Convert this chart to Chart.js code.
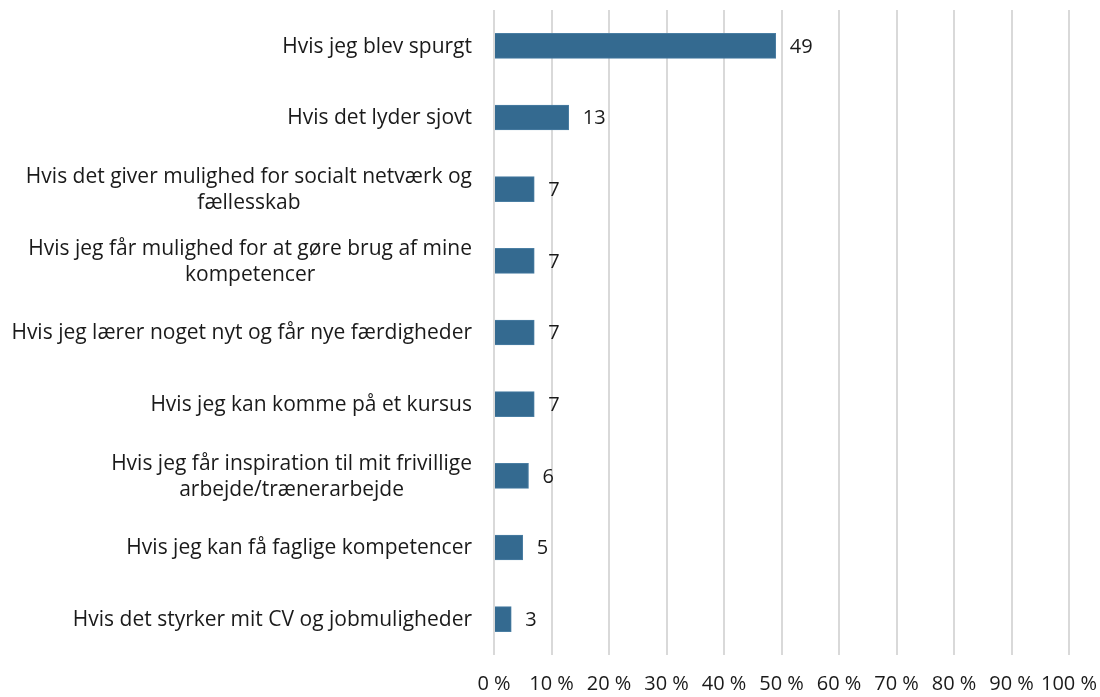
<!DOCTYPE html>
<html lang="da">
<head>
    <meta charset="UTF-8">
    <title>Motivation</title>
    <script src="https://cdn.jsdelivr.net/npm/chart.js"></script>
    <style>
        html, body { margin: 0; padding: 0; background: #fff; }
        .wrap { width: 1100px; height: 697px; }
    </style>
</head>
<body>
<div class="wrap">
<canvas id="reasonsChart" width="1100" height="697"></canvas>
</div>

<script>
    const categories = [
        'Hvis jeg blev spurgt',
        'Hvis det lyder sjovt',
        ['Hvis det giver mulighed for socialt netværk og', 'fællesskab'],
        ['Hvis jeg får mulighed for at gøre brug af mine', 'kompetencer'],
        'Hvis jeg lærer noget nyt og får nye færdigheder',
        'Hvis jeg kan komme på et kursus',
        ['Hvis jeg får inspiration til mit frivillige', 'arbejde/trænerarbejde'],
        'Hvis jeg kan få faglige kompetencer',
        'Hvis det styrker mit CV og jobmuligheder'
    ];
    const percentValues = [49, 13, 7, 7, 7, 7, 6, 5, 3];
    const xTicks = [0, 10, 20, 30, 40, 50, 60, 70, 80, 90, 100];

    const LABEL_FONT = '21px "Open Sans"';
    const VALUE_FONT = '20px "Open Sans"';
    const TEXT_COLOR = '#1a1a1a';

    // category labels: block right-aligned, lines centred inside the block
    const categoryLabels = {
        id: 'categoryLabels',
        afterDraw(chart) {
            const ctx = chart.ctx;
            const yScale = chart.scales.y;
            const rightEdge = chart.chartArea.left - 22;
            ctx.save();
            ctx.font = LABEL_FONT;
            ctx.fillStyle = TEXT_COLOR;
            ctx.textAlign = 'center';
            ctx.textBaseline = 'middle';
            categories.forEach((label, i) => {
                const lines = Array.isArray(label) ? label : [label];
                const blockW = Math.max(...lines.map(l => ctx.measureText(l).width));
                const cx = rightEdge - blockW / 2;
                const cy = yScale.getPixelForTick(i);
                const lh = 26;
                lines.forEach((line, j) => {
                    ctx.fillText(line, cx, cy + (j - (lines.length - 1) / 2) * lh + 1);
                });
            });
            ctx.restore();
        }
    };

    // value labels next to each bar
    const barValueLabels = {
        id: 'barValueLabels',
        afterDatasetsDraw(chart) {
            const ctx = chart.ctx;
            const meta = chart.getDatasetMeta(0);
            ctx.save();
            ctx.font = VALUE_FONT;
            ctx.fillStyle = TEXT_COLOR;
            ctx.textAlign = 'left';
            ctx.textBaseline = 'middle';
            meta.data.forEach((bar, i) => {
                ctx.fillText(String(percentValues[i]), bar.x + 14, bar.y + 1);
            });
            ctx.restore();
        }
    };

    const chartConfig = {
        type: 'bar',
        data: {
            labels: categories,
            datasets: [{
                data: percentValues,
                backgroundColor: '#346a90',
                borderColor: '#4a7ea3',
                borderWidth: 1,
                barThickness: 25
            }]
        },
        options: {
            indexAxis: 'y',
            responsive: false,
            animation: false,
            layout: { padding: { top: 10, right: 31, bottom: 0, left: 0 } },
            plugins: {
                legend: { display: false },
                tooltip: { enabled: false }
            },
            scales: {
                x: {
                    min: 0,
                    max: 100,
                    afterBuildTicks: (scale) => { scale.ticks = xTicks.map(v => ({ value: v })); },
                    afterFit: (scale) => {
                        scale.height = 42;
                        scale.paddingLeft = 0;
                        scale.paddingRight = 0;
                    },
                    grid: { color: '#d9d9d9', lineWidth: 2, drawTicks: false },
                    border: { display: false },
                    ticks: {
                        padding: 17,
                        color: TEXT_COLOR,
                        font: { family: 'Open Sans', size: 20 },
                        maxRotation: 0,
                        autoSkip: false,
                        callback: (v) => v + ' %'
                    }
                },
                y: {
                    afterFit: (scale) => {
                        scale.width = 494;
                        scale.paddingTop = 0;
                        scale.paddingBottom = 0;
                    },
                    grid: { display: false, drawTicks: false },
                    border: { display: false },
                    ticks: { display: false }
                }
            }
        },
        plugins: [barValueLabels, categoryLabels]
    };

    new Chart(document.getElementById('reasonsChart').getContext('2d'), chartConfig);
</script>
</body>
</html>
